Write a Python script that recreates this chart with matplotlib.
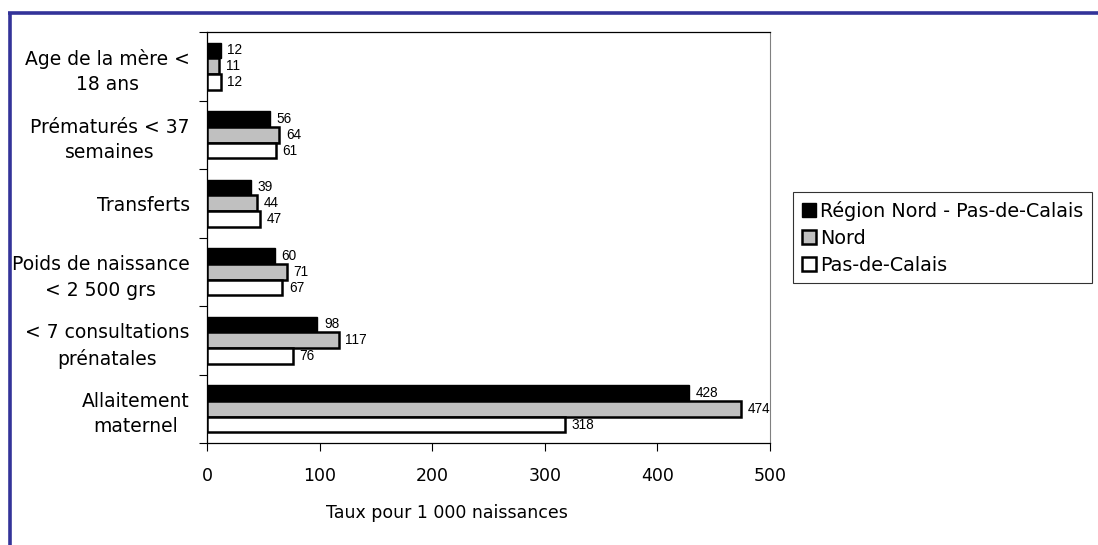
import matplotlib
matplotlib.use("Agg")
import matplotlib.pyplot as plt
from matplotlib.lines import Line2D
from matplotlib.patches import Patch
import numpy as np

categories = ["Age de la mère <\n18 ans", "Prématurés < 37\nsemaines", "Transferts",
              "Poids de naissance\n< 2 500 grs", "< 7 consultations\nprénatales",
              "Allaitement\nmaternel"]
series_names = ["Région Nord - Pas-de-Calais", "Nord", "Pas-de-Calais"]
region = [12, 56, 39, 60, 98, 428]
nord = [11, 64, 44, 71, 117, 474]
pdc = [12, 61, 47, 67, 76, 318]
xticks = [0, 100, 200, 300, 400, 500]
xlabel = "Taux pour 1 000 naissances"

W, H = 1098, 545
fig = plt.figure(figsize=(W / 100, H / 100), dpi=100)
fig.patch.set_facecolor("white")

# blue frame lines
border = "#333399"
fig.add_artist(Line2D([9.5 / W, 9.5 / W], [0, 1 - 13 / H], color=border, lw=2.6,
                      solid_capstyle="butt", transform=fig.transFigure))
fig.add_artist(Line2D([8 / W, 1], [1 - 13 / H, 1 - 13 / H], color=border, lw=2.6,
                      solid_capstyle="butt", transform=fig.transFigure))

ax = fig.add_axes([207 / W, 1 - 443 / H, (770 - 207) / W, (443 - 32) / H])

n = len(categories)
centers = np.arange(n) + 0.5
h = 0.23
colors = ["black", "#c0c0c0", "white"]
lws = [1.0, 1.8, 1.8]
data = [region, nord, pdc]
offsets = [-h, 0, h]
for vals, c, lw, off in zip(data, colors, lws, offsets):
    bars = ax.barh(centers + off, vals, height=h, color=c, edgecolor="black", linewidth=lw, zorder=3)
    for b, v in zip(bars, vals):
        ax.text(v + 6, b.get_y() + b.get_height() / 2, str(v), va="center", ha="left",
                fontsize=9.8, family="Liberation Sans", zorder=4)

ax.set_ylim(n, 0)
ax.set_xlim(0, 500)
ax.set_yticks(np.arange(n + 1))
ax.set_yticklabels([])
ax.tick_params(axis="y", which="major", direction="out", length=6, width=0.8)
ax.set_yticks(centers, minor=True)
ax.set_yticklabels(categories, minor=True, fontsize=13.5, multialignment="center",
                   linespacing=1.45)
ax.tick_params(axis="y", which="minor", length=0, pad=12.5)
ax.set_xticks(xticks)
ax.set_xticklabels([str(x) for x in xticks], fontsize=12.5)
ax.tick_params(axis="x", direction="out", length=6, width=0.8, pad=11)

for s in ["left", "bottom", "top"]:
    ax.spines[s].set_color("black")
    ax.spines[s].set_linewidth(0.9)
ax.spines["right"].set_color("#808080")
ax.spines["right"].set_linewidth(0.8)

fig.text(447 / W, 1 - 513 / H, xlabel, ha="center", va="center", fontsize=12.5)

handles = [Patch(facecolor=c, edgecolor="black", linewidth=lw) for c, lw in zip(colors, [1.0, 1.8, 1.8])]
leg = fig.legend(handles, series_names, loc="upper left", bbox_to_anchor=(793 / W, 1 - 192 / H),
                 fontsize=13.8, frameon=True, fancybox=False, edgecolor="black", handlelength=0.75,
                 handleheight=0.75, handletextpad=0.2, borderpad=0.45, labelspacing=0.42,
                 borderaxespad=0)
leg.get_frame().set_linewidth(0.8)

fig.savefig("out.png", dpi=100, facecolor="white")
